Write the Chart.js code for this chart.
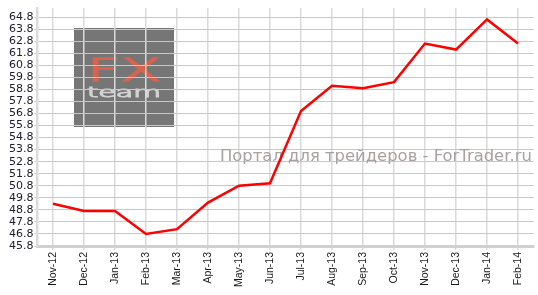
<!DOCTYPE html>
<html>
<head>
<meta charset="utf-8">
<script src="https://cdn.jsdelivr.net/npm/chart.js@4"></script>
<style>
  html, body { margin: 0; padding: 0; background: #fff; }
  #wrap { width: 538px; height: 295px; }
</style>
</head>
<body>
<div id="wrap"><canvas id="fxChart" width="538" height="295"></canvas></div>
<script>
// months and values
const months = ["Nov-12", "Dec-12", "Jan-13", "Feb-13", "Mar-13", "Apr-13", "May-13", "Jun-13",
                "Jul-13", "Aug-13", "Sep-13", "Oct-13", "Nov-13", "Dec-13", "Jan-14", "Feb-14"];
const values = [49.3, 48.7, 48.7, 46.8, 47.2, 49.4, 50.8, 51.0,
                57.0, 59.1, 58.9, 59.4, 62.6, 62.1, 64.6, 62.6];
const yTicks = [45.8, 46.8, 47.8, 48.8, 49.8, 50.8, 51.8, 52.8, 53.8, 54.8,
                55.8, 56.8, 57.8, 58.8, 59.8, 60.8, 61.8, 62.8, 63.8, 64.8];
const yMin = 45.8;
const yMax = 65.55;

// the grey "FX team" badge and the site caption behind the line
const watermark = {
    id: "watermark",
    beforeDraw(chart) {
        const ctx = chart.ctx;
        ctx.save();
        ctx.fillStyle = "#767676";
        ctx.fillRect(74, 28, 100, 99);

        // "FX" outlined, stretched to fit
        ctx.font = "200 28px 'DejaVu Sans'";
        ctx.textBaseline = "alphabetic";
        let w = ctx.measureText("FX").width;
        ctx.save();
        ctx.translate(87, 81);
        ctx.scale(74 / w, 23 / 20.5);
        ctx.strokeStyle = "#d9634d";
        ctx.lineWidth = 1.4;
        ctx.strokeText("FX", 0, 0);
        ctx.restore();

        ctx.font = "200 14px 'DejaVu Sans'";
        w = ctx.measureText("team").width;
        ctx.save();
        ctx.translate(87, 97);
        ctx.scale(74 / w, 1);
        ctx.strokeStyle = "#d2d2d2";
        ctx.lineWidth = 1;
        ctx.strokeText("team", 0, 0);
        ctx.restore();
        ctx.restore();
    },
    beforeDatasetsDraw(chart) {
        const ctx = chart.ctx;
        const text = "Портал для трейдеров - ForTrader.ru";
        ctx.save();
        ctx.font = "14px 'DejaVu Sans'";
        const w = ctx.measureText(text).width;
        const size = 14 * 312 / w;
        ctx.font = size.toFixed(2) + "px 'DejaVu Sans'";
        ctx.fillStyle = "#aaa0a0";
        ctx.textBaseline = "middle";
        ctx.fillText(text, 220, 157);
        ctx.restore();
    }
};

const ctx = document.getElementById("fxChart").getContext("2d");
const fxChart = new Chart(ctx, {
    type: "line",
    data: {
        labels: months,
        datasets: [{
            data: values,
            borderColor: "#ff0000",
            borderWidth: 2.5,
            pointRadius: 0,
            tension: 0,
            fill: false
        }]
    },
    options: {
        responsive: false,
        animation: false,
        layout: { padding: { top: 8, right: 4.5, left: 0, bottom: 0 } },
        plugins: {
            legend: { display: false },
            tooltip: { enabled: false }
        },
        scales: {
            x: {
                offset: true,
                afterFit: function (scale) { scale.height = 49; },
                grid: {
                    offset: false,
                    color: "#dadada",
                    lineWidth: 1.5,
                    tickLength: 4,
                    drawTicks: true
                },
                border: { color: "#d0d0d0", width: 3 },
                ticks: {
                    minRotation: 90,
                    maxRotation: 90,
                    autoSkip: false,
                    padding: 2,
                    color: "#1a1a1a",
                    font: { family: "'Liberation Sans'", size: 10.5 }
                }
            },
            y: {
                min: yMin,
                max: yMax,
                afterFit: function (scale) { scale.width = 37.5; },
                afterBuildTicks: function (scale) {
                    scale.ticks = yTicks.map(v => ({ value: v }));
                },
                grid: {
                    color: "#c8c8c8",
                    lineWidth: 1,
                    tickLength: 3
                },
                border: { color: "#dcdcdc", width: 2.5 },
                ticks: {
                    autoSkip: false,
                    padding: 1,
                    color: "#1c1c2a",
                    font: { family: "'DejaVu Sans'", size: 11 },
                    callback: function (v) { return Number(v).toFixed(1); }
                }
            }
        }
    },
    plugins: [watermark]
});
</script>
</body>
</html>
